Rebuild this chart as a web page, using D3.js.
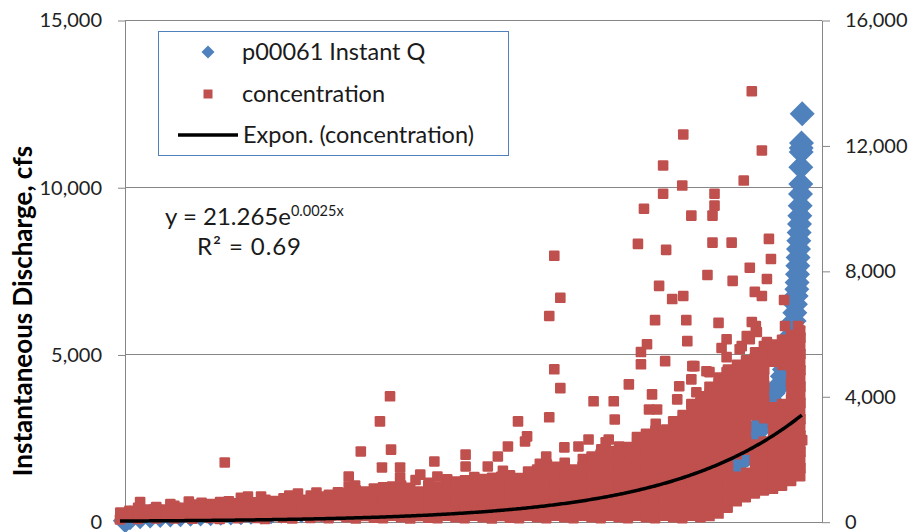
<!DOCTYPE html>
<html><head><meta charset="utf-8">
<script src="https://cdn.jsdelivr.net/npm/d3@7"></script>
<style>html,body{margin:0;padding:0;background:#fff;} svg{display:block;font-family:Lato,'Open Sans',sans-serif;}</style>
</head><body><svg id="c" width="912" height="532"></svg>
<script>
// ---- data ----
const leftTicks = [0, 5000, 10000, 15000];
const rightTicks = [0, 4000, 8000, 12000, 16000];
const seriesNames = ["p00061 Instant Q", "concentration", "Expon. (concentration)"];
const axisTitle = "Instantaneous Discharge, cfs";
const trendA = 21.265, trendB = 0.0025;
const eqMain = "y = 21.265e", eqExp = "0.0025x", eqR2 = "R² = 0.69";

// [sample index, discharge cfs] (left axis)
const discharge = [[16,30],[30,120],[60,150],[90,170],[120,185],[150,200],[180,210],[210,220],[240,230],[270,240],[300,250],[330,260],[360,270],[390,280],[420,290],[450,300],[480,310],[510,320],[540,330],[570,340],[600,350],[630,360],[660,370],[690,385],[720,400],[750,410],[780,420],[810,435],[840,450],[870,460],[900,475],[930,490],[960,505],[990,520],[1020,540],[1050,560],[1080,580],[1110,600],[1140,620],[1170,640],[1200,665],[1230,690],[1260,715],[1290,740],[1320,770],[1350,800],[1380,830],[1410,860],[1440,900],[1470,940],[1500,980],[1530,1020],[1560,1070],[1590,1120],[1620,1170],[1650,1230],[1680,1290],[1710,1360],[1740,1440],[1770,1530],[1800,1640],[1820,1700],[1836,1750],[1850,1850],[1860,1950],[1869,2000],[1880,2250],[1890,2500],[1898,2700],[1905,2900],[1915,3150],[1925,3400],[1935,3650],[1945,3850],[1955,3980],[1965,4100],[1972,4350],[1978,4550],[1984,4750],[1990,4900],[1995,5000],[1998,5300],[2001,5600],[2004,5800],[2007,6000],[2009,6250],[2011,6500],[2013,6750],[2015,6950],[2016,7150],[2017,7400],[2018,7650],[2019,7900],[2020,8150],[2021,8400],[2022,8650],[2023,8900],[2024,9150],[2025,9450],[2026,9800],[2027,10100],[2027,10600],[2028,11050],[2028,11170],[2029,11320],[2031,12200]];

// [sample index, concentration] (right axis)
const concentration = [
[0,70],[1,290],[27,150],[28,345],[54,90],[55,265],[54,440],[60,630],[81,165],[82,385],
[108,105],[109,305],[108,470],[135,175],[136,390],[162,100],[163,320],[162,505],[189,150],[190,300],[189,445],
[216,95],[217,330],[216,545],[243,185],[244,420],[243,600],[270,120],[271,350],[270,560],
[297,90],[298,275],[297,480],[298,625],[324,160],[325,410],[324,650],[312,1890],[351,110],[352,340],[351,590],
[378,170],[379,440],[378,680],[381,800],[405,120],[406,370],[405,620],[432,90],[433,290],[432,530],[433,700],[420,800],
[459,180],[460,430],[459,660],[486,130],[487,380],[486,620],[487,745],[513,100],[514,310],[513,560],[514,780],[504,830],
[540,190],[541,450],[540,700],[567,120],[568,370],[567,630],[568,830],[594,170],[595,430],[594,690],[595,800],
[621,110],[622,340],[621,600],[622,860],[648,200],[649,460],[648,720],[649,940],
[675,140],[676,400],[675,660],[676,910],[681,1440],[702,100],[703,320],[702,580],[703,840],[702,1000],
[729,180],[730,450],[729,710],[730,960],[717,2240],[756,130],[757,380],[756,640],[757,900],[756,1060],
[783,110],[784,340],[783,600],[784,860],[783,1100],[774,3200],[804,4000],[780,1730],
[810,190],[811,440],[810,700],[811,960],[810,1120],[807,2300],[837,140],[838,400],[837,660],[838,920],[837,1150],[834,1730],
[864,100],[865,330],[864,590],[865,850],[864,1080],[891,180],[892,440],[891,700],[892,960],
[918,130],[919,380],[918,640],[919,900],[918,1150],[919,1240],[945,110],[946,340],[945,600],[946,860],[945,1120],[936,1920],
[972,190],[973,450],[972,710],[973,970],[972,1220],[974,1350],[999,140],[1000,400],[999,660],[1000,920],[999,1180],[1000,1280],
[1026,110],[1027,360],[1026,620],[1027,880],[1026,1140],[1027,1320],[1029,2140],
[1053,190],[1054,450],[1053,710],[1054,970],[1053,1230],[1055,1420],[1080,140],[1081,400],[1080,660],[1081,920],[1080,1180],[1081,1360],
[1107,100],[1108,350],[1107,610],[1108,870],[1107,1130],[1108,1400],[1134,180],[1135,440],[1134,700],[1135,960],[1134,1220],[1135,1430],
[1161,130],[1162,390],[1161,650],[1162,910],[1161,1170],[1162,1400],[1161,1480],[1155,2400],
[1188,110],[1189,350],[1188,610],[1189,870],[1188,1130],[1189,1390],[1185,3200],
[1215,190],[1216,450],[1215,710],[1216,970],[1215,1230],[1216,1490],[1215,1600],[1212,2720],
[1242,140],[1243,400],[1242,660],[1243,920],[1242,1180],[1243,1440],[1242,1660],
[1269,110],[1270,360],[1269,620],[1270,880],[1269,1140],[1270,1400],[1269,1650],[1271,1820],[1278,3330],[1278,6560],
[1296,190],[1297,450],[1296,710],[1297,970],[1296,1230],[1297,1490],[1296,1750],[1293,8480],[1293,4860],
[1323,140],[1324,400],[1323,660],[1324,920],[1323,1180],[1324,1440],[1323,1700],[1324,1880],[1311,7140],[1311,4260],[1323,2370],
[1350,110],[1351,360],[1350,620],[1351,880],[1350,1140],[1351,1400],[1350,1660],
[1377,190],[1378,450],[1377,710],[1378,970],[1377,1230],[1378,1490],[1377,1750],[1378,2000],
[1404,140],[1405,400],[1404,660],[1405,920],[1404,1180],[1405,1440],[1404,1700],[1405,1960],[1404,2080],[1410,3840],
[1431,110],[1432,360],[1431,620],[1432,880],[1431,1140],[1432,1400],[1431,1660],[1432,1920],[1431,2150],[1433,2310],
[1458,190],[1459,450],[1458,710],[1459,970],[1458,1230],[1459,1490],[1458,1750],[1459,2010],[1458,2250],[1470,3840],[1473,3260],
[1485,140],[1486,400],[1485,660],[1486,920],[1485,1180],[1486,1440],[1485,1700],[1486,1960],[1485,2220],[1486,2400],
[1512,110],[1513,360],[1512,620],[1513,880],[1512,1140],[1513,1400],[1512,1660],[1513,1920],[1512,2180],[1513,2380],[1515,4380],
[1539,190],[1540,450],[1539,710],[1540,970],[1539,1230],[1540,1490],[1539,1750],[1540,2010],[1539,2270],[1540,2530],[1539,2700],[1542,8860],[1551,5410],[1551,5020],
[1566,140],[1567,400],[1566,660],[1567,920],[1566,1180],[1567,1440],[1566,1700],[1567,1960],[1566,2220],[1567,2480],[1566,2800],[1560,9980],[1569,5660],
[1593,110],[1594,360],[1593,620],[1594,880],[1593,1140],[1594,1400],[1593,1660],[1594,1920],[1593,2180],[1594,2440],[1593,2700],[1594,2900],[1595,3120],[1584,4060],[1593,6430],
[1620,190],[1621,450],[1620,710],[1621,970],[1620,1230],[1621,1490],[1620,1750],[1621,2010],[1620,2270],[1621,2530],[1620,2790],[1617,11360],[1617,10460],[1626,8670],[1623,5120],[1605,7520],
[1647,140],[1648,400],[1647,660],[1648,920],[1647,1180],[1648,1440],[1647,1700],[1648,1960],[1647,2220],[1648,2480],[1647,2740],[1648,3000],[1647,3200],[1659,3900],[1644,7100],
[1674,110],[1675,360],[1674,620],[1675,880],[1674,1140],[1675,1400],[1674,1660],[1675,1920],[1674,2180],[1675,2440],[1674,2700],[1675,2960],[1674,3220],[1675,3400],[1677,12350],[1674,10720],[1677,7200],[1686,6430],[1689,5760],
[1701,190],[1702,450],[1701,710],[1702,970],[1701,1230],[1702,1490],[1701,1750],[1702,2010],[1701,2270],[1702,2530],[1701,2790],[1702,3050],[1701,3310],[1702,3600],[1701,3750],[1701,9760],
[1728,140],[1729,400],[1728,660],[1729,920],[1728,1180],[1729,1440],[1728,1700],[1729,1960],[1728,2220],[1729,2480],[1728,2740],[1729,3000],[1728,3260],[1729,3520],[1728,3800],[1729,4000],[1749,7870],
[1755,180],[1756,450],[1755,710],[1756,970],[1755,1230],[1756,1490],[1755,1750],[1756,2010],[1755,2270],[1756,2530],[1755,2790],[1756,3050],[1755,3310],[1756,3570],[1755,3830],[1756,4100],[1755,4300],[1770,10460],[1770,10080],[1764,9760],[1764,8900],
[1782,260],[1783,520],[1782,780],[1783,1040],[1782,1300],[1783,1560],[1782,1820],[1783,2080],[1782,2340],[1783,2600],[1782,2860],[1783,3120],[1782,3380],[1783,3640],[1782,3900],[1783,4160],[1782,4420],[1783,4600],[1782,6340],[1791,5540],
[1809,450],[1810,710],[1809,970],[1810,1230],[1809,1490],[1810,1750],[1809,2010],[1810,2270],[1809,2530],[1810,2790],[1809,3050],[1810,3310],[1809,3570],[1810,3830],[1809,4090],[1810,4350],[1809,4610],[1810,4850],[1806,5250],[1821,8900],[1824,7680],
[1836,650],[1837,910],[1836,1170],[1837,1430],[1836,2150],[1837,2410],[1836,2670],[1837,2930],[1836,3190],[1837,3450],[1836,3710],[1837,3970],[1836,4230],[1837,4490],[1836,4750],[1837,5000],
[1863,780],[1864,1040],[1863,1300],[1864,1560],[1863,2300],[1864,2560],[1863,2820],[1864,3080],[1863,3340],[1864,3600],[1863,3860],[1864,4120],[1863,4380],[1864,4640],[1863,4900],[1864,5150],[1857,10880],[1851,5600],
[1890,900],[1891,1160],[1890,1420],[1891,1680],[1890,1940],[1891,2200],[1890,2460],[1891,3400],[1890,3660],[1891,3920],[1890,4180],[1891,4440],[1890,4700],[1891,4960],[1890,5220],[1891,5400],[1881,13730],[1875,8100],[1890,7330],[1893,6240],
[1917,1000],[1918,1260],[1917,1520],[1918,1780],[1917,2040],[1918,2300],[1917,2560],[1918,3300],[1917,3560],[1918,3820],[1917,4080],[1918,4340],[1917,4600],[1918,4860],[1917,5120],[1918,5380],[1917,5600],[1911,11840],[1911,7200],[1932,9020],[1938,8380],[1926,7740],
[1944,1050],[1945,1310],[1944,1570],[1945,1830],[1944,2090],[1945,2350],[1944,2610],[1945,2870],[1944,3130],[1945,3390],[1944,3650],[1945,5100],[1944,5360],[1945,5650],
[1971,1150],[1972,1410],[1971,1670],[1972,1930],[1971,2190],[1972,2450],[1971,2710],[1972,2970],[1971,3230],[1972,3490],[1971,3750],[1972,5000],[1971,5260],[1972,5520],[1971,5800],[1977,7070],[1980,6240],
[1998,1300],[1999,1560],[1998,1820],[1999,2080],[1998,2340],[1999,2600],[1998,2860],[1999,3120],[1998,3380],[1999,3640],[1998,3900],[1999,4160],[1998,4420],[1999,4680],[1998,4940],[1999,5200],[1998,5460],[1999,5720],[1998,5950],
[2025,1450],[2026,1710],[2025,1970],[2026,2230],[2025,2490],[2026,2750],[2025,3010],[2026,3270],[2025,3530],[2026,3790],[2025,4050],[2026,4310],[2025,4570],[2026,4830],[2025,5090],[2026,5350],[2025,5610],[2026,5870],[2025,6100],[2019,6240],[2031,2600],
// scattered points just above the dense band
[585,930],[654,800],[681,1120],[834,1410],[894,1500],[945,1440],[1029,1760],[1095,1760],[1125,2080],[1206,2560],[1269,2080],[1365,2400],[1395,2620],[1455,2620],
[1575,3580],[1599,3580],[1665,4320],[1701,4540],[1704,4960],[1755,4770],[1716,4130],[1626,2940],[1545,2620],[1446,2530],[1485,2080],
[1806,5820],[1845,5500],[1866,5920],[1926,5730],[1710,4960],[1746,4800],[1806,4770],[1875,5820],[1896,6050],[1881,6370],
[150,560],[205,640],[360,760],[530,900],[700,1150],[880,1330],[1140,1620],[1250,1850]
];

// ---- drawing ----
const BLUE = "#4F81BD", RED = "#C0504D", GRID = "#868686";
const svg = d3.select("#c");
const x = d3.scaleLinear().domain([15, 2090]).range([125, 822]);
const yL = d3.scaleLinear().domain([0, 15000]).range([521.7, 20]);
const yR = d3.scaleLinear().domain([0, 16000]).range([521.7, 20]);

// gridlines
svg.append("g").selectAll("line").data(leftTicks).join("line")
  .attr("x1", x(15)).attr("x2", x(2090))
  .attr("y1", d => Math.round(yL(d)) + 0.5).attr("y2", d => Math.round(yL(d)) + 0.5)
  .attr("stroke", GRID).attr("stroke-width", 1);

// axes
const fmt = d3.format(",");
const gL = svg.append("g").attr("transform", `translate(${x(15)},0.5)`)
  .call(d3.axisLeft(yL).tickValues(leftTicks).tickFormat(fmt).tickSizeInner(7).tickSizeOuter(0).tickPadding(16));
const gR = svg.append("g").attr("transform", `translate(${x(2090)},0.5)`)
  .call(d3.axisRight(yR).tickValues(rightTicks).tickFormat(fmt).tickSizeInner(8).tickSizeOuter(0).tickPadding(15));
[gL, gR].forEach(g => {
  g.select(".domain").attr("stroke", GRID);
  g.selectAll(".tick line").attr("stroke", GRID);
  g.selectAll(".tick text").attr("font-size", 20).attr("fill", "#222").attr("font-family", "Lato, sans-serif");
});

// discharge diamonds
const R = 12.5;
const diamond = r => `M0,${-r}L${r},0L0,${r}L${-r},0Z`;
svg.append("g").selectAll("path").data(discharge).join("path")
  .attr("d", diamond(R))
  .attr("transform", d => `translate(${x(d[0])},${yL(d[1])})`)
  .attr("fill", BLUE);

// concentration squares
const S = 10.6;
svg.append("g").selectAll("rect").data(concentration).join("rect")
  .attr("x", d => x(d[0]) - S / 2).attr("y", d => yR(d[1]) - S / 2)
  .attr("width", S).attr("height", S).attr("rx", 1.2)
  .attr("fill", RED);

// exponential trend line (from displayed fit coefficients)
const xExt = d3.extent(concentration, d => d[0]);
const tx = d3.range(xExt[0], xExt[1] + 1, 5);
svg.append("path")
  .attr("d", d3.line().x(d => x(d)).y(d => yR(trendA * Math.exp(trendB * d)))(tx))
  .attr("fill", "none").attr("stroke", "#000").attr("stroke-width", 3.5);

// axis title
svg.append("text").attr("transform", "translate(32,311) rotate(-90)")
  .attr("text-anchor", "middle").attr("font-weight", "bold").attr("font-size", 26)
  .attr("fill", "#000").text(axisTitle);

// legend
const lg = svg.append("g");
lg.append("rect").attr("x", 158.5).attr("y", 31.5).attr("width", 350).attr("height", 124)
  .attr("fill", "#fff").attr("stroke", BLUE).attr("stroke-width", 1);
lg.append("path").attr("d", diamond(6.5)).attr("transform", "translate(208,52)").attr("fill", BLUE);
lg.append("rect").attr("x", 203.5).attr("y", 89.5).attr("width", 9).attr("height", 9).attr("fill", RED);
lg.append("line").attr("x1", 178).attr("x2", 238).attr("y1", 135).attr("y2", 135).attr("stroke", "#000").attr("stroke-width", 3.5);
lg.selectAll("text").data(seriesNames).join("text")
  .attr("x", (d, i) => i === 2 ? 243 : 242).attr("y", (d, i) => [60, 102, 143][i])
  .attr("font-size", 23.5).attr("fill", "#1a1a1a").text(d => d);

// equation
const eq = svg.append("text").attr("x", 165).attr("y", 225).attr("font-size", 24).attr("fill", "#1a1a1a");
eq.append("tspan").text(eqMain);
eq.append("tspan").attr("font-size", 14.5).attr("dy", -9).text(eqExp);
svg.append("text").attr("x", 197).attr("y", 255).attr("font-size", 24).attr("fill", "#1a1a1a")
  .attr("textLength", 104).attr("lengthAdjust", "spacing").text(eqR2);
</script></body></html>
